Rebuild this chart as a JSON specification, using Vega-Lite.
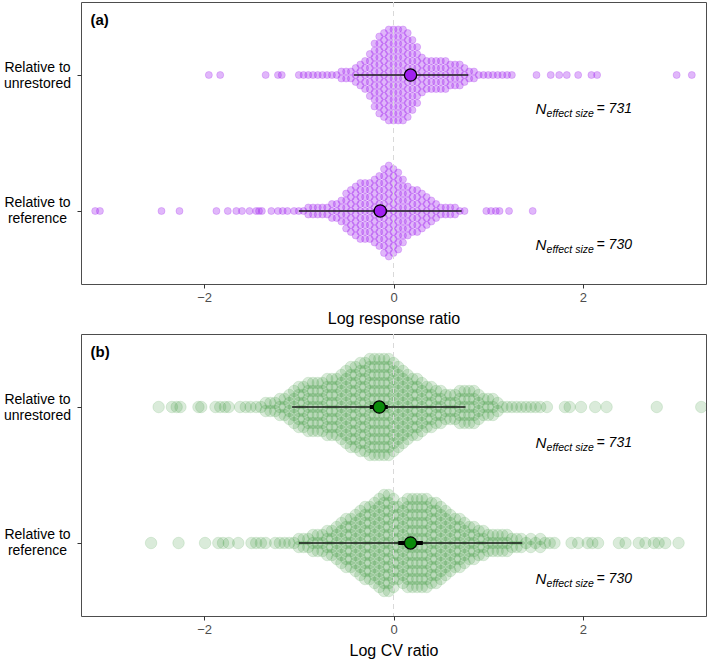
{
"$schema": "https://vega.github.io/schema/vega-lite/v6.json",
"padding": {"left": 3, "top": 1, "right": 1, "bottom": 0},
"spacing": 6,
"config": {
 "font": "Liberation Sans",
 "view": {"stroke": "#4d4d4d", "strokeWidth": 1},
 "axis": {"grid": false, "domain": false, "tickColor": "#333333", "tickSize": 4, "labelColor": "#4d4d4d", "labelFontSize": 13, "titleFontSize": 16, "titleFontWeight": "normal", "titleColor": "black", "labelPadding": 3, "titlePadding": 6}
},
"datasets": {
 "au": [{"v":-1.95},{"v":-1.83},{"v":-1.35},{"v":-1.22},{"v":-1.18},{"v":-1},{"v":-0.95},{"v":-0.9},{"v":-0.85},{"v":-0.8},{"v":-0.75},{"v":-0.7},{"v":-0.65},{"v":-0.6},
  {"v":-0.55},{"v":-0.55},{"v":-0.5},{"v":-0.5},{"v":-0.45},{"v":-0.45},{"v":-0.4},{"v":-0.4},{"v":-0.4},
  {"v":-0.35},{"v":-0.35},{"v":-0.35},{"v":-0.35},
  {"v":-0.3},{"v":-0.3},{"v":-0.3},{"v":-0.3},{"v":-0.3},
  {"v":-0.25},{"v":-0.25},{"v":-0.25},{"v":-0.25},{"v":-0.25},{"v":-0.25},{"v":-0.25},
  {"v":-0.2},{"v":-0.2},{"v":-0.2},{"v":-0.2},{"v":-0.2},{"v":-0.2},{"v":-0.2},{"v":-0.2},{"v":-0.2},{"v":-0.2},
  {"v":-0.15},{"v":-0.15},{"v":-0.15},{"v":-0.15},{"v":-0.15},{"v":-0.15},{"v":-0.15},{"v":-0.15},{"v":-0.15},{"v":-0.15},{"v":-0.15},{"v":-0.15},
  {"v":-0.1},{"v":-0.1},{"v":-0.1},{"v":-0.1},{"v":-0.1},{"v":-0.1},{"v":-0.1},{"v":-0.1},{"v":-0.1},{"v":-0.1},{"v":-0.1},{"v":-0.1},{"v":-0.1},
  {"v":-0.05},{"v":-0.05},{"v":-0.05},{"v":-0.05},{"v":-0.05},{"v":-0.05},{"v":-0.05},{"v":-0.05},{"v":-0.05},{"v":-0.05},{"v":-0.05},{"v":-0.05},{"v":-0.05},{"v":-0.05},
  {"v":0},{"v":0},{"v":0},{"v":0},{"v":0},{"v":0},{"v":0},{"v":0},{"v":0},{"v":0},{"v":0},{"v":0},{"v":0},{"v":0},
  {"v":0.05},{"v":0.05},{"v":0.05},{"v":0.05},{"v":0.05},{"v":0.05},{"v":0.05},{"v":0.05},{"v":0.05},{"v":0.05},{"v":0.05},{"v":0.05},{"v":0.05},{"v":0.05},
  {"v":0.1},{"v":0.1},{"v":0.1},{"v":0.1},{"v":0.1},{"v":0.1},{"v":0.1},{"v":0.1},{"v":0.1},{"v":0.1},{"v":0.1},{"v":0.1},{"v":0.1},{"v":0.1},
  {"v":0.15},{"v":0.15},{"v":0.15},{"v":0.15},{"v":0.15},{"v":0.15},{"v":0.15},{"v":0.15},{"v":0.15},{"v":0.15},{"v":0.15},{"v":0.15},{"v":0.15},
  {"v":0.2},{"v":0.2},{"v":0.2},{"v":0.2},{"v":0.2},{"v":0.2},{"v":0.2},{"v":0.2},{"v":0.2},{"v":0.2},{"v":0.2},
  {"v":0.25},{"v":0.25},{"v":0.25},{"v":0.25},{"v":0.25},{"v":0.25},{"v":0.25},{"v":0.25},{"v":0.25},
  {"v":0.3},{"v":0.3},{"v":0.3},{"v":0.3},{"v":0.3},{"v":0.3},
  {"v":0.35},{"v":0.35},{"v":0.35},{"v":0.35},{"v":0.35},
  {"v":0.4},{"v":0.4},{"v":0.4},{"v":0.4},{"v":0.4},
  {"v":0.45},{"v":0.45},{"v":0.45},{"v":0.45},{"v":0.45},
  {"v":0.5},{"v":0.5},{"v":0.5},{"v":0.5},{"v":0.5},
  {"v":0.55},{"v":0.55},{"v":0.55},{"v":0.55},{"v":0.55},
  {"v":0.6},{"v":0.6},{"v":0.6},{"v":0.6},
  {"v":0.65},{"v":0.65},{"v":0.65},{"v":0.65},
  {"v":0.7},{"v":0.7},{"v":0.7},{"v":0.7},
  {"v":0.75},{"v":0.75},{"v":0.75},
  {"v":0.8},{"v":0.8},{"v":0.85},{"v":0.85},
  {"v":0.9},{"v":0.95},{"v":1},{"v":1.05},{"v":1.1},{"v":1.15},{"v":1.2},{"v":1.25},
  {"v":1.51},{"v":1.66},{"v":1.75},{"v":1.83},{"v":1.95},{"v":2.09},{"v":2.15},{"v":2.99},{"v":3.15}],
 "ar": [{"v":-3.15},{"v":-3.1},{"v":-2.45},{"v":-2.26},{"v":-1.87},{"v":-1.75},{"v":-1.66},{"v":-1.6},{"v":-1.52},{"v":-1.45},{"v":-1.42},{"v":-1.39},{"v":-1.29},{"v":-1.22},{"v":-1.17},{"v":-1.12},
  {"v":-1.05},{"v":-1},{"v":-0.95},
  {"v":-0.9},{"v":-0.9},{"v":-0.85},{"v":-0.85},{"v":-0.8},{"v":-0.8},{"v":-0.75},{"v":-0.75},{"v":-0.7},{"v":-0.7},
  {"v":-0.65},{"v":-0.65},{"v":-0.65},{"v":-0.6},{"v":-0.6},{"v":-0.6},
  {"v":-0.55},{"v":-0.55},{"v":-0.55},{"v":-0.55},
  {"v":-0.5},{"v":-0.5},{"v":-0.5},{"v":-0.5},{"v":-0.5},{"v":-0.5},
  {"v":-0.45},{"v":-0.45},{"v":-0.45},{"v":-0.45},{"v":-0.45},{"v":-0.45},{"v":-0.45},
  {"v":-0.4},{"v":-0.4},{"v":-0.4},{"v":-0.4},{"v":-0.4},{"v":-0.4},{"v":-0.4},{"v":-0.4},
  {"v":-0.35},{"v":-0.35},{"v":-0.35},{"v":-0.35},{"v":-0.35},{"v":-0.35},{"v":-0.35},{"v":-0.35},{"v":-0.35},
  {"v":-0.3},{"v":-0.3},{"v":-0.3},{"v":-0.3},{"v":-0.3},{"v":-0.3},{"v":-0.3},{"v":-0.3},{"v":-0.3},
  {"v":-0.25},{"v":-0.25},{"v":-0.25},{"v":-0.25},{"v":-0.25},{"v":-0.25},{"v":-0.25},{"v":-0.25},{"v":-0.25},
  {"v":-0.2},{"v":-0.2},{"v":-0.2},{"v":-0.2},{"v":-0.2},{"v":-0.2},{"v":-0.2},{"v":-0.2},{"v":-0.2},{"v":-0.2},
  {"v":-0.15},{"v":-0.15},{"v":-0.15},{"v":-0.15},{"v":-0.15},{"v":-0.15},{"v":-0.15},{"v":-0.15},{"v":-0.15},{"v":-0.15},{"v":-0.15},
  {"v":-0.1},{"v":-0.1},{"v":-0.1},{"v":-0.1},{"v":-0.1},{"v":-0.1},{"v":-0.1},{"v":-0.1},{"v":-0.1},{"v":-0.1},{"v":-0.1},{"v":-0.1},{"v":-0.1},
  {"v":-0.05},{"v":-0.05},{"v":-0.05},{"v":-0.05},{"v":-0.05},{"v":-0.05},{"v":-0.05},{"v":-0.05},{"v":-0.05},{"v":-0.05},{"v":-0.05},{"v":-0.05},{"v":-0.05},{"v":-0.05},
  {"v":0},{"v":0},{"v":0},{"v":0},{"v":0},{"v":0},{"v":0},{"v":0},{"v":0},{"v":0},{"v":0},{"v":0},{"v":0},
  {"v":0.05},{"v":0.05},{"v":0.05},{"v":0.05},{"v":0.05},{"v":0.05},{"v":0.05},{"v":0.05},{"v":0.05},{"v":0.05},{"v":0.05},{"v":0.05},
  {"v":0.1},{"v":0.1},{"v":0.1},{"v":0.1},{"v":0.1},{"v":0.1},{"v":0.1},{"v":0.1},{"v":0.1},{"v":0.1},
  {"v":0.15},{"v":0.15},{"v":0.15},{"v":0.15},{"v":0.15},{"v":0.15},{"v":0.15},{"v":0.15},
  {"v":0.2},{"v":0.2},{"v":0.2},{"v":0.2},{"v":0.2},{"v":0.2},{"v":0.2},
  {"v":0.25},{"v":0.25},{"v":0.25},{"v":0.25},{"v":0.25},{"v":0.25},{"v":0.25},
  {"v":0.3},{"v":0.3},{"v":0.3},{"v":0.3},{"v":0.3},{"v":0.3},
  {"v":0.35},{"v":0.35},{"v":0.35},{"v":0.35},{"v":0.35},
  {"v":0.4},{"v":0.4},{"v":0.4},{"v":0.4},
  {"v":0.45},{"v":0.45},{"v":0.45},
  {"v":0.5},{"v":0.5},{"v":0.55},{"v":0.55},{"v":0.6},{"v":0.6},{"v":0.65},{"v":0.65},
  {"v":0.7},{"v":0.75},
  {"v":0.98},{"v":1.03},{"v":1.08},{"v":1.12},{"v":1.22},{"v":1.47}],
 "bu": [{"v":-2.48},{"v":-2.34},{"v":-2.29},{"v":-2.25},{"v":-2.06},{"v":-2.03},{"v":-1.88},{"v":-1.83},{"v":-1.78},{"v":-1.74},{"v":-1.62},{"v":-1.56},{"v":-1.51},
  {"v":-1.45},{"v":-1.4},
  {"v":-1.35},{"v":-1.35},{"v":-1.3},{"v":-1.3},{"v":-1.25},{"v":-1.25},
  {"v":-1.2},{"v":-1.2},{"v":-1.2},{"v":-1.15},{"v":-1.15},{"v":-1.15},
  {"v":-1.1},{"v":-1.1},{"v":-1.1},{"v":-1.1},
  {"v":-1.05},{"v":-1.05},{"v":-1.05},{"v":-1.05},{"v":-1.05},
  {"v":-1},{"v":-1},{"v":-1},{"v":-1},{"v":-1},{"v":-1},
  {"v":-0.95},{"v":-0.95},{"v":-0.95},{"v":-0.95},{"v":-0.95},{"v":-0.95},
  {"v":-0.9},{"v":-0.9},{"v":-0.9},{"v":-0.9},{"v":-0.9},{"v":-0.9},{"v":-0.9},
  {"v":-0.85},{"v":-0.85},{"v":-0.85},{"v":-0.85},{"v":-0.85},{"v":-0.85},{"v":-0.85},
  {"v":-0.8},{"v":-0.8},{"v":-0.8},{"v":-0.8},{"v":-0.8},{"v":-0.8},{"v":-0.8},
  {"v":-0.75},{"v":-0.75},{"v":-0.75},{"v":-0.75},{"v":-0.75},{"v":-0.75},{"v":-0.75},
  {"v":-0.7},{"v":-0.7},{"v":-0.7},{"v":-0.7},{"v":-0.7},{"v":-0.7},{"v":-0.7},{"v":-0.7},
  {"v":-0.65},{"v":-0.65},{"v":-0.65},{"v":-0.65},{"v":-0.65},{"v":-0.65},{"v":-0.65},{"v":-0.65},
  {"v":-0.6},{"v":-0.6},{"v":-0.6},{"v":-0.6},{"v":-0.6},{"v":-0.6},{"v":-0.6},{"v":-0.6},
  {"v":-0.55},{"v":-0.55},{"v":-0.55},{"v":-0.55},{"v":-0.55},{"v":-0.55},{"v":-0.55},{"v":-0.55},{"v":-0.55},
  {"v":-0.5},{"v":-0.5},{"v":-0.5},{"v":-0.5},{"v":-0.5},{"v":-0.5},{"v":-0.5},{"v":-0.5},{"v":-0.5},{"v":-0.5},
  {"v":-0.45},{"v":-0.45},{"v":-0.45},{"v":-0.45},{"v":-0.45},{"v":-0.45},{"v":-0.45},{"v":-0.45},{"v":-0.45},{"v":-0.45},{"v":-0.45},
  {"v":-0.4},{"v":-0.4},{"v":-0.4},{"v":-0.4},{"v":-0.4},{"v":-0.4},{"v":-0.4},{"v":-0.4},{"v":-0.4},{"v":-0.4},{"v":-0.4},
  {"v":-0.35},{"v":-0.35},{"v":-0.35},{"v":-0.35},{"v":-0.35},{"v":-0.35},{"v":-0.35},{"v":-0.35},{"v":-0.35},{"v":-0.35},{"v":-0.35},{"v":-0.35},
  {"v":-0.3},{"v":-0.3},{"v":-0.3},{"v":-0.3},{"v":-0.3},{"v":-0.3},{"v":-0.3},{"v":-0.3},{"v":-0.3},{"v":-0.3},{"v":-0.3},{"v":-0.3},
  {"v":-0.25},{"v":-0.25},{"v":-0.25},{"v":-0.25},{"v":-0.25},{"v":-0.25},{"v":-0.25},{"v":-0.25},{"v":-0.25},{"v":-0.25},{"v":-0.25},{"v":-0.25},{"v":-0.25},
  {"v":-0.2},{"v":-0.2},{"v":-0.2},{"v":-0.2},{"v":-0.2},{"v":-0.2},{"v":-0.2},{"v":-0.2},{"v":-0.2},{"v":-0.2},{"v":-0.2},{"v":-0.2},{"v":-0.2},
  {"v":-0.15},{"v":-0.15},{"v":-0.15},{"v":-0.15},{"v":-0.15},{"v":-0.15},{"v":-0.15},{"v":-0.15},{"v":-0.15},{"v":-0.15},{"v":-0.15},{"v":-0.15},{"v":-0.15},
  {"v":-0.1},{"v":-0.1},{"v":-0.1},{"v":-0.1},{"v":-0.1},{"v":-0.1},{"v":-0.1},{"v":-0.1},{"v":-0.1},{"v":-0.1},{"v":-0.1},{"v":-0.1},{"v":-0.1},
  {"v":-0.05},{"v":-0.05},{"v":-0.05},{"v":-0.05},{"v":-0.05},{"v":-0.05},{"v":-0.05},{"v":-0.05},{"v":-0.05},{"v":-0.05},{"v":-0.05},{"v":-0.05},{"v":-0.05},
  {"v":0},{"v":0},{"v":0},{"v":0},{"v":0},{"v":0},{"v":0},{"v":0},{"v":0},{"v":0},{"v":0},{"v":0},
  {"v":0.05},{"v":0.05},{"v":0.05},{"v":0.05},{"v":0.05},{"v":0.05},{"v":0.05},{"v":0.05},{"v":0.05},{"v":0.05},{"v":0.05},
  {"v":0.1},{"v":0.1},{"v":0.1},{"v":0.1},{"v":0.1},{"v":0.1},{"v":0.1},{"v":0.1},{"v":0.1},{"v":0.1},
  {"v":0.15},{"v":0.15},{"v":0.15},{"v":0.15},{"v":0.15},{"v":0.15},{"v":0.15},{"v":0.15},{"v":0.15},
  {"v":0.2},{"v":0.2},{"v":0.2},{"v":0.2},{"v":0.2},{"v":0.2},{"v":0.2},{"v":0.2},
  {"v":0.25},{"v":0.25},{"v":0.25},{"v":0.25},{"v":0.25},{"v":0.25},{"v":0.25},{"v":0.25},
  {"v":0.3},{"v":0.3},{"v":0.3},{"v":0.3},{"v":0.3},{"v":0.3},{"v":0.3},
  {"v":0.35},{"v":0.35},{"v":0.35},{"v":0.35},{"v":0.35},{"v":0.35},
  {"v":0.4},{"v":0.4},{"v":0.4},{"v":0.4},{"v":0.4},{"v":0.4},
  {"v":0.45},{"v":0.45},{"v":0.45},{"v":0.45},{"v":0.45},
  {"v":0.5},{"v":0.5},{"v":0.5},{"v":0.5},{"v":0.5},
  {"v":0.55},{"v":0.55},{"v":0.55},{"v":0.55},
  {"v":0.6},{"v":0.6},{"v":0.6},{"v":0.6},
  {"v":0.65},{"v":0.65},{"v":0.65},{"v":0.65},
  {"v":0.7},{"v":0.7},{"v":0.7},{"v":0.7},{"v":0.7},
  {"v":0.75},{"v":0.75},{"v":0.75},{"v":0.75},{"v":0.75},
  {"v":0.8},{"v":0.8},{"v":0.8},{"v":0.8},{"v":0.8},
  {"v":0.85},{"v":0.85},{"v":0.85},{"v":0.85},{"v":0.85},
  {"v":0.9},{"v":0.9},{"v":0.9},{"v":0.9},
  {"v":0.95},{"v":0.95},{"v":0.95},{"v":1},{"v":1},{"v":1},{"v":1.05},{"v":1.05},{"v":1.05},
  {"v":1.1},{"v":1.1},
  {"v":1.15},{"v":1.2},{"v":1.25},{"v":1.3},{"v":1.35},{"v":1.4},{"v":1.45},{"v":1.5},{"v":1.55},
  {"v":1.62},{"v":1.81},{"v":1.86},{"v":1.98},{"v":2.13},{"v":2.25},{"v":2.78},{"v":3.25}],
 "br": [{"v":-2.56},{"v":-2.27},{"v":-1.99},{"v":-1.85},{"v":-1.8},{"v":-1.74},{"v":-1.64},{"v":-1.5},{"v":-1.45},{"v":-1.4},{"v":-1.35},{"v":-1.25},{"v":-1.2},{"v":-1.15},{"v":-1.1},
  {"v":-1.05},
  {"v":-1},{"v":-1},{"v":-0.95},{"v":-0.95},{"v":-0.9},{"v":-0.9},
  {"v":-0.85},{"v":-0.85},{"v":-0.85},{"v":-0.8},{"v":-0.8},{"v":-0.8},{"v":-0.75},{"v":-0.75},{"v":-0.75},
  {"v":-0.7},{"v":-0.7},{"v":-0.7},{"v":-0.7},{"v":-0.65},{"v":-0.65},{"v":-0.65},{"v":-0.65},
  {"v":-0.6},{"v":-0.6},{"v":-0.6},{"v":-0.6},{"v":-0.6},
  {"v":-0.55},{"v":-0.55},{"v":-0.55},{"v":-0.55},{"v":-0.55},{"v":-0.55},
  {"v":-0.5},{"v":-0.5},{"v":-0.5},{"v":-0.5},{"v":-0.5},{"v":-0.5},{"v":-0.5},
  {"v":-0.45},{"v":-0.45},{"v":-0.45},{"v":-0.45},{"v":-0.45},{"v":-0.45},{"v":-0.45},
  {"v":-0.4},{"v":-0.4},{"v":-0.4},{"v":-0.4},{"v":-0.4},{"v":-0.4},{"v":-0.4},{"v":-0.4},
  {"v":-0.35},{"v":-0.35},{"v":-0.35},{"v":-0.35},{"v":-0.35},{"v":-0.35},{"v":-0.35},{"v":-0.35},{"v":-0.35},
  {"v":-0.3},{"v":-0.3},{"v":-0.3},{"v":-0.3},{"v":-0.3},{"v":-0.3},{"v":-0.3},{"v":-0.3},{"v":-0.3},{"v":-0.3},
  {"v":-0.25},{"v":-0.25},{"v":-0.25},{"v":-0.25},{"v":-0.25},{"v":-0.25},{"v":-0.25},{"v":-0.25},{"v":-0.25},{"v":-0.25},
  {"v":-0.2},{"v":-0.2},{"v":-0.2},{"v":-0.2},{"v":-0.2},{"v":-0.2},{"v":-0.2},{"v":-0.2},{"v":-0.2},{"v":-0.2},{"v":-0.2},
  {"v":-0.15},{"v":-0.15},{"v":-0.15},{"v":-0.15},{"v":-0.15},{"v":-0.15},{"v":-0.15},{"v":-0.15},{"v":-0.15},{"v":-0.15},{"v":-0.15},{"v":-0.15},
  {"v":-0.1},{"v":-0.1},{"v":-0.1},{"v":-0.1},{"v":-0.1},{"v":-0.1},{"v":-0.1},{"v":-0.1},{"v":-0.1},{"v":-0.1},{"v":-0.1},{"v":-0.1},{"v":-0.1},
  {"v":-0.05},{"v":-0.05},{"v":-0.05},{"v":-0.05},{"v":-0.05},{"v":-0.05},{"v":-0.05},{"v":-0.05},{"v":-0.05},{"v":-0.05},{"v":-0.05},{"v":-0.05},{"v":-0.05},
  {"v":0},{"v":0},{"v":0},{"v":0},{"v":0},{"v":0},{"v":0},{"v":0},{"v":0},{"v":0},{"v":0},{"v":0},
  {"v":0.05},{"v":0.05},{"v":0.05},{"v":0.05},{"v":0.05},{"v":0.05},{"v":0.05},{"v":0.05},{"v":0.05},{"v":0.05},
  {"v":0.1},{"v":0.1},{"v":0.1},{"v":0.1},{"v":0.1},{"v":0.1},{"v":0.1},{"v":0.1},{"v":0.1},{"v":0.1},{"v":0.1},
  {"v":0.15},{"v":0.15},{"v":0.15},{"v":0.15},{"v":0.15},{"v":0.15},{"v":0.15},{"v":0.15},{"v":0.15},{"v":0.15},{"v":0.15},{"v":0.15},
  {"v":0.2},{"v":0.2},{"v":0.2},{"v":0.2},{"v":0.2},{"v":0.2},{"v":0.2},{"v":0.2},{"v":0.2},{"v":0.2},{"v":0.2},{"v":0.2},
  {"v":0.25},{"v":0.25},{"v":0.25},{"v":0.25},{"v":0.25},{"v":0.25},{"v":0.25},{"v":0.25},{"v":0.25},{"v":0.25},{"v":0.25},{"v":0.25},
  {"v":0.3},{"v":0.3},{"v":0.3},{"v":0.3},{"v":0.3},{"v":0.3},{"v":0.3},{"v":0.3},{"v":0.3},{"v":0.3},{"v":0.3},{"v":0.3},
  {"v":0.35},{"v":0.35},{"v":0.35},{"v":0.35},{"v":0.35},{"v":0.35},{"v":0.35},{"v":0.35},{"v":0.35},{"v":0.35},{"v":0.35},{"v":0.35},
  {"v":0.4},{"v":0.4},{"v":0.4},{"v":0.4},{"v":0.4},{"v":0.4},{"v":0.4},{"v":0.4},{"v":0.4},{"v":0.4},{"v":0.4},
  {"v":0.45},{"v":0.45},{"v":0.45},{"v":0.45},{"v":0.45},{"v":0.45},{"v":0.45},{"v":0.45},{"v":0.45},{"v":0.45},{"v":0.45},
  {"v":0.5},{"v":0.5},{"v":0.5},{"v":0.5},{"v":0.5},{"v":0.5},{"v":0.5},{"v":0.5},{"v":0.5},{"v":0.5},
  {"v":0.55},{"v":0.55},{"v":0.55},{"v":0.55},{"v":0.55},{"v":0.55},{"v":0.55},{"v":0.55},{"v":0.55},
  {"v":0.6},{"v":0.6},{"v":0.6},{"v":0.6},{"v":0.6},{"v":0.6},{"v":0.6},{"v":0.6},
  {"v":0.65},{"v":0.65},{"v":0.65},{"v":0.65},{"v":0.65},{"v":0.65},{"v":0.65},
  {"v":0.7},{"v":0.7},{"v":0.7},{"v":0.7},{"v":0.7},{"v":0.7},{"v":0.7},
  {"v":0.75},{"v":0.75},{"v":0.75},{"v":0.75},{"v":0.75},{"v":0.75},
  {"v":0.8},{"v":0.8},{"v":0.8},{"v":0.8},{"v":0.8},{"v":0.85},{"v":0.85},{"v":0.85},{"v":0.85},{"v":0.85},
  {"v":0.9},{"v":0.9},{"v":0.9},{"v":0.9},{"v":0.95},{"v":0.95},{"v":0.95},{"v":0.95},
  {"v":1},{"v":1},{"v":1},{"v":1.05},{"v":1.05},{"v":1.05},{"v":1.1},{"v":1.1},{"v":1.1},{"v":1.15},{"v":1.15},{"v":1.15},{"v":1.2},{"v":1.2},{"v":1.2},
  {"v":1.25},{"v":1.25},{"v":1.3},{"v":1.3},{"v":1.35},{"v":1.35},
  {"v":1.4},{"v":1.45},{"v":1.45},{"v":1.5},{"v":1.55},{"v":1.55},{"v":1.6},{"v":1.65},{"v":1.7},
  {"v":1.88},{"v":1.95},{"v":2.05},{"v":2.1},{"v":2.16},{"v":2.38},{"v":2.45},{"v":2.59},{"v":2.66},{"v":2.75},{"v":2.8},{"v":2.87},{"v":3.01}],
 "sa": [
  {"g":"Relative to unrestored","m":0.18,"lo":-0.42,"hi":0.79,"cl":0.12,"ch":0.23,"n":"= 731"},
  {"g":"Relative to reference","m":-0.14,"lo":-1.0,"hi":0.72,"cl":-0.21,"ch":-0.07,"n":"= 730"}],
 "sb": [
  {"g":"Relative to unrestored","m":-0.15,"lo":-1.07,"hi":0.76,"cl":-0.25,"ch":-0.06,"n":"= 731"},
  {"g":"Relative to reference","m":0.18,"lo":-1.0,"hi":1.36,"cl":0.05,"ch":0.31,"n":"= 730"}]
},
"vconcat": [
 {
  "width": 625, "height": 282,
  "resolve": {"scale": {"y": "independent"}},
  "layer": [
   {"data": {"name": "au"}, "transform": [{"window": [{"op": "row_number", "as": "id"}]}],
    "mark": {"type": "circle", "size": 50, "filled": true, "fill": "#A020F0", "fillOpacity": 0.32, "stroke": "#A020F0", "strokeOpacity": 0.4, "strokeWidth": 0.6, "clip": true},
    "encoding": {
     "x": {"field": "v", "type": "quantitative", "scale": {"domain": [-3.3, 3.3], "nice": false, "zero": false}, "axis": {"values": [-2, 0, 2], "title": "Log response ratio"}},
     "y": {"aggregate": "count", "type": "quantitative", "stack": "center", "scale": {"domain": [-22.357, 17.929], "nice": false, "zero": false}, "axis": null},
     "detail": {"field": "id", "type": "quantitative"}}},
   {"data": {"name": "ar"}, "transform": [{"window": [{"op": "row_number", "as": "id"}]}],
    "mark": {"type": "circle", "size": 50, "filled": true, "fill": "#A020F0", "fillOpacity": 0.32, "stroke": "#A020F0", "strokeOpacity": 0.4, "strokeWidth": 0.6, "clip": true},
    "encoding": {
     "x": {"field": "v", "type": "quantitative", "scale": {"domain": [-3.3, 3.3], "nice": false, "zero": false}, "axis": {"values": [-2, 0, 2], "title": "Log response ratio"}},
     "y": {"aggregate": "count", "type": "quantitative", "stack": "center", "scale": {"domain": [-2.929, 37.357], "nice": false, "zero": false}, "axis": null},
     "detail": {"field": "id", "type": "quantitative"}}},
   {"data": {"values": [{}]},
    "mark": {"type": "rule", "color": "#d9d9d9", "strokeDash": [5, 4], "strokeWidth": 1},
    "encoding": {"x": {"datum": 0, "type": "quantitative", "scale": {"domain": [-3.3, 3.3], "nice": false, "zero": false}, "axis": {"values": [-2, 0, 2], "title": "Log response ratio"}}}},
   {"data": {"name": "sa"},
    "mark": {"type": "rule", "color": "#1a1a1a", "strokeWidth": 1.3},
    "encoding": {
     "x": {"field": "lo", "type": "quantitative", "scale": {"domain": [-3.3, 3.3], "nice": false, "zero": false}, "axis": {"values": [-2, 0, 2], "title": "Log response ratio"}},
     "x2": {"field": "hi"},
     "y": {"field": "g", "type": "nominal", "scale": {"type": "point", "domain": ["Relative to unrestored", "Relative to reference"], "padding": 0.537}, "axis": null}}},
   {"data": {"name": "sa"},
    "mark": {"type": "rule", "color": "black", "strokeWidth": 4},
    "encoding": {
     "x": {"field": "cl", "type": "quantitative", "scale": {"domain": [-3.3, 3.3], "nice": false, "zero": false}, "axis": {"values": [-2, 0, 2], "title": "Log response ratio"}},
     "x2": {"field": "ch"},
     "y": {"field": "g", "type": "nominal", "scale": {"type": "point", "domain": ["Relative to unrestored", "Relative to reference"], "padding": 0.537}, "axis": null}}},
   {"data": {"name": "sa"},
    "mark": {"type": "circle", "size": 150, "opacity": 1, "fill": "#A020F0", "stroke": "black", "strokeWidth": 1.3},
    "encoding": {
     "x": {"field": "m", "type": "quantitative", "scale": {"domain": [-3.3, 3.3], "nice": false, "zero": false}, "axis": {"values": [-2, 0, 2], "title": "Log response ratio"}},
     "y": {"field": "g", "type": "nominal", "scale": {"type": "point", "domain": ["Relative to unrestored", "Relative to reference"], "padding": 0.537},
       "axis": {"title": null, "labelExpr": "['Relative to', replace(datum.label, 'Relative to ', '')]", "labelAlign": "center", "labelBaseline": "middle", "labelOffset": -8, "labelPadding": 40, "labelFontSize": 14, "labelColor": "black", "labelLineHeight": 16}}}},
   {"data": {"name": "sa"},
    "mark": {"type": "text", "align": "left", "baseline": "middle", "fontStyle": "italic", "fontSize": 15, "dy": 34, "color": "black"},
    "encoding": {
     "x": {"datum": 1.5, "type": "quantitative", "scale": {"domain": [-3.3, 3.3], "nice": false, "zero": false}, "axis": {"values": [-2, 0, 2], "title": "Log response ratio"}},
     "y": {"field": "g", "type": "nominal", "scale": {"type": "point", "domain": ["Relative to unrestored", "Relative to reference"], "padding": 0.537}, "axis": null},
     "text": {"value": "N"}}},
   {"data": {"name": "sa"},
    "mark": {"type": "text", "align": "left", "baseline": "middle", "fontStyle": "italic", "fontSize": 10.5, "dx": 11, "dy": 39, "color": "black"},
    "encoding": {
     "x": {"datum": 1.5, "type": "quantitative", "scale": {"domain": [-3.3, 3.3], "nice": false, "zero": false}, "axis": {"values": [-2, 0, 2], "title": "Log response ratio"}},
     "y": {"field": "g", "type": "nominal", "scale": {"type": "point", "domain": ["Relative to unrestored", "Relative to reference"], "padding": 0.537}, "axis": null},
     "text": {"value": "effect size"}}},
   {"data": {"name": "sa"},
    "mark": {"type": "text", "align": "left", "baseline": "middle", "fontStyle": "italic", "fontSize": 14, "dx": 61, "dy": 34, "color": "black"},
    "encoding": {
     "x": {"datum": 1.5, "type": "quantitative", "scale": {"domain": [-3.3, 3.3], "nice": false, "zero": false}, "axis": {"values": [-2, 0, 2], "title": "Log response ratio"}},
     "y": {"field": "g", "type": "nominal", "scale": {"type": "point", "domain": ["Relative to unrestored", "Relative to reference"], "padding": 0.537}, "axis": null},
     "text": {"field": "n"}}},
   {"data": {"values": [{}]},
    "mark": {"type": "text", "align": "left", "baseline": "middle", "fontWeight": "bold", "fontSize": 15, "color": "black"},
    "encoding": {
     "x": {"datum": -3.2, "type": "quantitative", "scale": {"domain": [-3.3, 3.3], "nice": false, "zero": false}, "axis": {"values": [-2, 0, 2], "title": "Log response ratio"}},
     "y": {"datum": 1.405, "type": "quantitative", "scale": {"domain": [-0.537, 1.537], "nice": false, "zero": false}, "axis": null},
     "text": {"value": "(a)"}}}
  ]
 },
 {
  "width": 625, "height": 282,
  "resolve": {"scale": {"y": "independent"}},
  "layer": [
   {"data": {"name": "bu"}, "transform": [{"window": [{"op": "row_number", "as": "id"}]}],
    "mark": {"type": "circle", "size": 133, "filled": true, "fill": "#228B22", "fillOpacity": 0.17, "stroke": "#228B22", "strokeOpacity": 0.22, "strokeWidth": 0.6, "clip": true},
    "encoding": {
     "x": {"field": "v", "type": "quantitative", "scale": {"domain": [-3.3, 3.3], "nice": false, "zero": false}, "axis": {"values": [-2, 0, 2], "title": "Log CV ratio"}},
     "y": {"aggregate": "count", "type": "quantitative", "stack": "center", "scale": {"domain": [-19.125, 16.125], "nice": false, "zero": false}, "axis": null},
     "detail": {"field": "id", "type": "quantitative"}}},
   {"data": {"name": "br"}, "transform": [{"window": [{"op": "row_number", "as": "id"}]}],
    "mark": {"type": "circle", "size": 133, "filled": true, "fill": "#228B22", "fillOpacity": 0.17, "stroke": "#228B22", "strokeOpacity": 0.22, "strokeWidth": 0.6, "clip": true},
    "encoding": {
     "x": {"field": "v", "type": "quantitative", "scale": {"domain": [-3.3, 3.3], "nice": false, "zero": false}, "axis": {"values": [-2, 0, 2], "title": "Log CV ratio"}},
     "y": {"aggregate": "count", "type": "quantitative", "stack": "center", "scale": {"domain": [-2.125, 33.125], "nice": false, "zero": false}, "axis": null},
     "detail": {"field": "id", "type": "quantitative"}}},
   {"data": {"values": [{}]},
    "mark": {"type": "rule", "color": "#d9d9d9", "strokeDash": [5, 4], "strokeWidth": 1},
    "encoding": {"x": {"datum": 0, "type": "quantitative", "scale": {"domain": [-3.3, 3.3], "nice": false, "zero": false}, "axis": {"values": [-2, 0, 2], "title": "Log CV ratio"}}}},
   {"data": {"name": "sb"},
    "mark": {"type": "rule", "color": "#1a1a1a", "strokeWidth": 1.3},
    "encoding": {
     "x": {"field": "lo", "type": "quantitative", "scale": {"domain": [-3.3, 3.3], "nice": false, "zero": false}, "axis": {"values": [-2, 0, 2], "title": "Log CV ratio"}},
     "x2": {"field": "hi"},
     "y": {"field": "g", "type": "nominal", "scale": {"type": "point", "domain": ["Relative to unrestored", "Relative to reference"], "padding": 0.537}, "axis": null}}},
   {"data": {"name": "sb"},
    "mark": {"type": "rule", "color": "black", "strokeWidth": 4},
    "encoding": {
     "x": {"field": "cl", "type": "quantitative", "scale": {"domain": [-3.3, 3.3], "nice": false, "zero": false}, "axis": {"values": [-2, 0, 2], "title": "Log CV ratio"}},
     "x2": {"field": "ch"},
     "y": {"field": "g", "type": "nominal", "scale": {"type": "point", "domain": ["Relative to unrestored", "Relative to reference"], "padding": 0.537}, "axis": null}}},
   {"data": {"name": "sb"},
    "mark": {"type": "circle", "size": 150, "opacity": 1, "fill": "#0A8A0A", "stroke": "black", "strokeWidth": 1.3},
    "encoding": {
     "x": {"field": "m", "type": "quantitative", "scale": {"domain": [-3.3, 3.3], "nice": false, "zero": false}, "axis": {"values": [-2, 0, 2], "title": "Log CV ratio"}},
     "y": {"field": "g", "type": "nominal", "scale": {"type": "point", "domain": ["Relative to unrestored", "Relative to reference"], "padding": 0.537},
       "axis": {"title": null, "labelExpr": "['Relative to', replace(datum.label, 'Relative to ', '')]", "labelAlign": "center", "labelBaseline": "middle", "labelOffset": -8, "labelPadding": 40, "labelFontSize": 14, "labelColor": "black", "labelLineHeight": 16}}}},
   {"data": {"name": "sb"},
    "mark": {"type": "text", "align": "left", "baseline": "middle", "fontStyle": "italic", "fontSize": 15, "dy": 36, "color": "black"},
    "encoding": {
     "x": {"datum": 1.5, "type": "quantitative", "scale": {"domain": [-3.3, 3.3], "nice": false, "zero": false}, "axis": {"values": [-2, 0, 2], "title": "Log CV ratio"}},
     "y": {"field": "g", "type": "nominal", "scale": {"type": "point", "domain": ["Relative to unrestored", "Relative to reference"], "padding": 0.537}, "axis": null},
     "text": {"value": "N"}}},
   {"data": {"name": "sb"},
    "mark": {"type": "text", "align": "left", "baseline": "middle", "fontStyle": "italic", "fontSize": 10.5, "dx": 11, "dy": 41, "color": "black"},
    "encoding": {
     "x": {"datum": 1.5, "type": "quantitative", "scale": {"domain": [-3.3, 3.3], "nice": false, "zero": false}, "axis": {"values": [-2, 0, 2], "title": "Log CV ratio"}},
     "y": {"field": "g", "type": "nominal", "scale": {"type": "point", "domain": ["Relative to unrestored", "Relative to reference"], "padding": 0.537}, "axis": null},
     "text": {"value": "effect size"}}},
   {"data": {"name": "sb"},
    "mark": {"type": "text", "align": "left", "baseline": "middle", "fontStyle": "italic", "fontSize": 14, "dx": 61, "dy": 36, "color": "black"},
    "encoding": {
     "x": {"datum": 1.5, "type": "quantitative", "scale": {"domain": [-3.3, 3.3], "nice": false, "zero": false}, "axis": {"values": [-2, 0, 2], "title": "Log CV ratio"}},
     "y": {"field": "g", "type": "nominal", "scale": {"type": "point", "domain": ["Relative to unrestored", "Relative to reference"], "padding": 0.537}, "axis": null},
     "text": {"field": "n"}}},
   {"data": {"values": [{}]},
    "mark": {"type": "text", "align": "left", "baseline": "middle", "fontWeight": "bold", "fontSize": 15, "color": "black"},
    "encoding": {
     "x": {"datum": -3.2, "type": "quantitative", "scale": {"domain": [-3.3, 3.3], "nice": false, "zero": false}, "axis": {"values": [-2, 0, 2], "title": "Log CV ratio"}},
     "y": {"datum": 1.405, "type": "quantitative", "scale": {"domain": [-0.537, 1.537], "nice": false, "zero": false}, "axis": null},
     "text": {"value": "(b)"}}}
  ]
 }
]
}
